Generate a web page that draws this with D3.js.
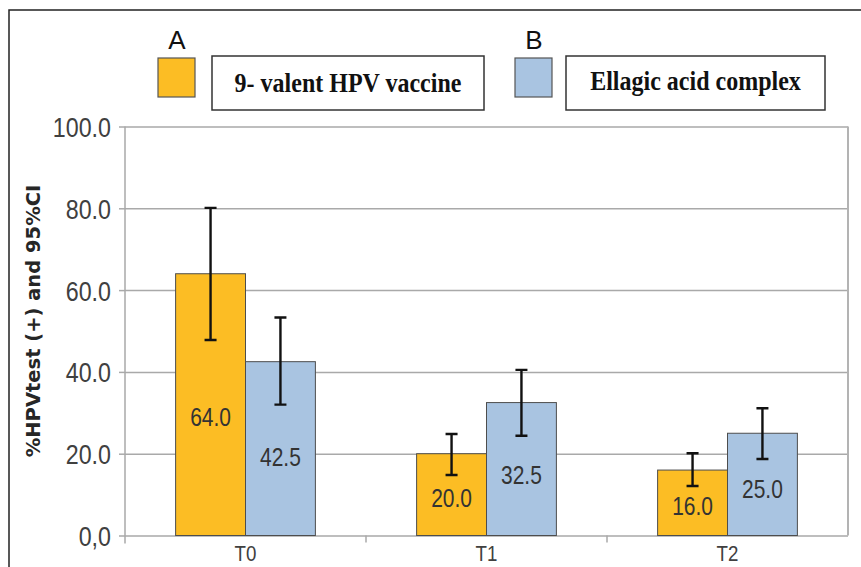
<!DOCTYPE html>
<html>
<head>
<meta charset="utf-8">
<script src="https://cdn.jsdelivr.net/npm/d3@7"></script>
<style>
  html, body { margin: 0; padding: 0; background: #fff; }
  svg { display: block; }
</style>
</head>
<body>
<svg id="chart" width="861" height="567"></svg>
<script>
const categories = ["T0", "T1", "T2"];
const seriesKeys = ["A", "B"];
const seriesNames = ["9- valent HPV vaccine", "Ellagic acid complex"];
const vaccineValues = [64.0, 20.0, 16.0];
const vaccineLow = [47.8, 14.8, 12.1];
const vaccineHigh = [80.1, 24.8, 20.1];
const ellagicValues = [42.5, 32.5, 25.0];
const ellagicLow = [32.0, 24.4, 18.7];
const ellagicHigh = [53.3, 40.5, 31.1];
const yTicks = [0, 20, 40, 60, 80, 100];
const yTitle = "%HPVtest (+) and 95%CI";

const colors = ["#fcbd24", "#a9c4e1"];
const series = [
    { values: vaccineValues, low: vaccineLow, high: vaccineHigh },
    { values: ellagicValues, low: ellagicLow, high: ellagicHigh }
];

const sansFont = "'Liberation Sans', Arial, sans-serif";
const svg = d3.select("#chart");
const plot = { left: 125, right: 848, top: 126.5, bottom: 535.5 };

const x0 = d3.scaleBand().domain(categories).range([plot.left, plot.right]);
const bw = x0.bandwidth();
const x1 = d3.scaleBand().domain([0, 1]).range([bw * 0.21, bw * 0.79]);
const y = d3.scaleLinear().domain([0, 100]).range([plot.bottom, plot.top]);

// outer frame (top and left only visible)
svg.append("path")
    .attr("d", "M9,567V10H861")
    .attr("fill", "none")
    .attr("stroke", "#222")
    .attr("stroke-width", 1.5);

// gridlines
const grid = svg.append("g")
    .attr("transform", `translate(${plot.left},0)`)
    .call(d3.axisLeft(y).tickValues(yTicks).tickSize(-(plot.right - plot.left)).tickFormat(""));
grid.select(".domain").remove();
grid.selectAll("line").attr("stroke", "#a9a9a9").attr("stroke-width", 1.5);

// plot frame on right
svg.append("line")
    .attr("x1", plot.right).attr("x2", plot.right)
    .attr("y1", plot.top).attr("y2", plot.bottom)
    .attr("stroke", "#b3b3b3").attr("stroke-width", 2);

// y axis
const yAxis = svg.append("g")
    .attr("transform", `translate(${plot.left},0)`)
    .call(d3.axisLeft(y).tickValues(yTicks).tickSize(6)
        .tickFormat(d => d === 0 ? "0,0" : d.toFixed(1)));
yAxis.select(".domain")
    .attr("d", `M0,${plot.top}V${plot.bottom + 8}`)
    .attr("stroke", "#a9a9a9").attr("stroke-width", 1.5);
yAxis.selectAll("line").attr("stroke", "#a9a9a9").attr("stroke-width", 1.5);
yAxis.selectAll("text")
    .attr("x", 0)
    .attr("dy", "0.36em")
    .attr("transform", "translate(-14,0) scale(0.83,1)")
    .attr("font-family", sansFont)
    .attr("font-size", 28)
    .attr("fill", "#404040");

// x axis
const xAxis = svg.append("g")
    .attr("transform", `translate(0,${plot.bottom})`)
    .call(d3.axisBottom(x0).tickSize(0));
xAxis.select(".domain").remove();
xAxis.selectAll("text")
    .attr("y", 0)
    .attr("dy", 0)
    .attr("transform", "translate(0,25.5) scale(0.85,1)")
    .attr("font-family", sansFont)
    .attr("font-size", 22)
    .attr("fill", "#404040");
svg.append("g").selectAll("line")
    .data(categories.slice(1))
    .join("line")
    .attr("x1", d => x0(d)).attr("x2", d => x0(d))
    .attr("y1", plot.bottom).attr("y2", plot.bottom + 7)
    .attr("stroke", "#a9a9a9").attr("stroke-width", 1.5);

// y title
svg.append("text")
    .attr("transform", `translate(33,${(plot.top + plot.bottom) / 2 - 10}) rotate(-90)`)
    .attr("text-anchor", "middle")
    .attr("dominant-baseline", "central")
    .attr("font-family", "'DejaVu Sans', Verdana, sans-serif")
    .attr("font-weight", "bold")
    .attr("font-size", 19.5)
    .attr("fill", "#262626")
    .text(yTitle);

// bars
const groups = svg.append("g").selectAll("g")
    .data(categories)
    .join("g")
    .attr("transform", d => `translate(${x0(d)},0)`);

series.forEach((s, si) => {
    groups.append("rect")
        .attr("x", x1(si))
        .attr("width", x1.bandwidth())
        .attr("y", (d, i) => y(s.values[i]))
        .attr("height", (d, i) => y(0) - y(s.values[i]))
        .attr("fill", colors[si])
        .attr("stroke", "#4d4d4d")
        .attr("stroke-width", 1);
});

series.forEach((s, si) => {
    const cx = x1(si) + x1.bandwidth() / 2;
    groups.append("text")
        .attr("transform", (d, i) => `translate(${cx},${y(s.values[i] * 0.45)}) scale(0.84,1)`)
        .attr("text-anchor", "middle")
        .attr("dominant-baseline", "central")
        .attr("font-family", sansFont)
        .attr("font-size", 25)
        .attr("fill", "#333")
        .text((d, i) => s.values[i].toFixed(1));
});

// error bars
series.forEach((s, si) => {
    const cx = x1(si) + x1.bandwidth() / 2;
    groups.append("path")
        .attr("stroke", "#111")
        .attr("stroke-width", 2.4)
        .attr("fill", "none")
        .attr("d", (d, i) => {
            const lo = y(s.low[i]), hi = y(s.high[i]);
            return `M${cx},${hi}V${lo}M${cx - 6},${hi}H${cx + 6}M${cx - 6},${lo}H${cx + 6}`;
        });
});

// legend
const legend = svg.append("g");
const legendItems = [
    { key: seriesKeys[0], name: seriesNames[0], sw: 158, box: [212, 484] },
    { key: seriesKeys[1], name: seriesNames[1], sw: 515, box: [566, 825] }
];
legendItems.forEach((it, i) => {
    legend.append("text")
        .attr("x", it.sw + 19)
        .attr("y", 49)
        .attr("text-anchor", "middle")
        .attr("font-family", sansFont)
        .attr("font-size", 26)
        .attr("fill", "#111")
        .text(it.key);
    legend.append("rect")
        .attr("x", it.sw).attr("y", 58)
        .attr("width", 37).attr("height", 39)
        .attr("fill", colors[i])
        .attr("stroke", "#555").attr("stroke-width", 1.2);
    legend.append("rect")
        .attr("x", it.box[0]).attr("y", 56)
        .attr("width", it.box[1] - it.box[0]).attr("height", 54)
        .attr("fill", "#fff")
        .attr("stroke", "#333").attr("stroke-width", 1.5);
    legend.append("text")
        .attr("transform", `translate(${(it.box[0] + it.box[1]) / 2},${i === 0 ? 92 : 89.5}) scale(1,1.15)`)
        .attr("text-anchor", "middle")
        .attr("font-family", "'Liberation Serif', 'Times New Roman', serif")
        .attr("font-weight", "bold")
        .attr("font-size", 24)
        .attr("fill", "#111")
        .text(it.name);
});
</script>
</body>
</html>
